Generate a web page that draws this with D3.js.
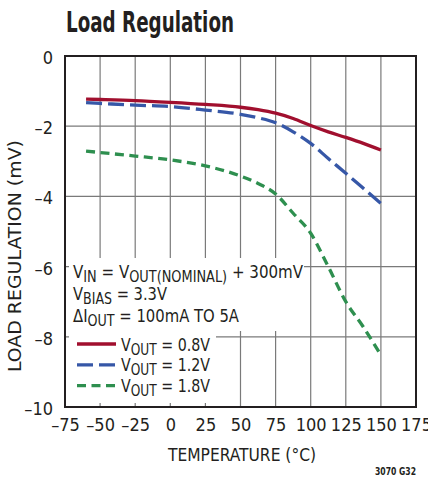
<!DOCTYPE html>
<html>
<head>
<meta charset="utf-8">
<script src="https://cdn.jsdelivr.net/npm/d3@7"></script>
<style>
  html, body { margin: 0; padding: 0; background: #fff; }
  svg text { font-family: "Liberation Sans Narrow", "DejaVu Sans Condensed", "Arial Narrow", sans-serif; fill: #231f20; }
</style>
</head>
<body>
<svg id="chart" width="428" height="477"></svg>
<script>
// ---- data ----
const temps = [-60, -50, -25, 0, 25, 50, 62.5, 75, 87.5, 100, 112.5, 125, 137.5, 150];
const vout08 = [-1.23, -1.24, -1.27, -1.32, -1.38, -1.46, -1.53, -1.63, -1.78, -1.98, -2.16, -2.32, -2.49, -2.68];
const vout12 = [-1.33, -1.35, -1.40, -1.44, -1.54, -1.66, -1.76, -1.90, -2.16, -2.49, -2.92, -3.34, -3.77, -4.20];
const vout18 = [-2.71, -2.75, -2.85, -2.96, -3.13, -3.42, -3.63, -3.93, -4.48, -5.05, -6.00, -7.00, -7.72, -8.52];
const seriesNames = ["0.8V", "1.2V", "1.8V"];
const xTicks = [-75, -50, -25, 0, 25, 50, 75, 100, 125, 150, 175];
const yTicks = [0, -2, -4, -6, -8, -10];
const titleText = "Load Regulation";
const xTitle = "TEMPERATURE (°C)";
const yTitle = "LOAD REGULATION (mV)";
const figId = "3070 G32";

// ---- layout ----
const svg = d3.select("#chart");
const L = 65, R = 416, T = 56, B = 407;
const x = d3.scaleLinear().domain([-75, 175]).range([L, R]);
const y = d3.scaleLinear().domain([-10, 0]).range([B, T]);
const fmt = v => (v < 0 ? "\u2013" + Math.abs(v) : String(v));
const FF = '"Liberation Sans Narrow", "DejaVu Sans Condensed", sans-serif';

// title
svg.append("text").attr("x", 66).attr("y", 32)
  .attr("font-size", 28).attr("font-weight", "bold")
  .attr("textLength", 168).attr("lengthAdjust", "spacingAndGlyphs")
  .text(titleText);

// grid
const grid = svg.append("g").attr("stroke", "#7a7a7a").attr("stroke-width", 1.2);
xTicks.slice(1, -1).forEach(t => {
  grid.append("line").attr("x1", x(t)).attr("x2", x(t)).attr("y1", T).attr("y2", B);
});
yTicks.slice(1, -1).forEach(t => {
  grid.append("line").attr("x1", L).attr("x2", R).attr("y1", y(t)).attr("y2", y(t));
});

// white boxes behind annotation & legend
svg.append("rect").attr("x", 69).attr("y", 258).attr("width", 235).attr("height", 73).attr("fill", "#fff");
svg.append("rect").attr("x", 69).attr("y", 331).attr("width", 147).attr("height", 72).attr("fill", "#fff");

// series
const colors = ["#a10f2e", "#3657a7", "#2e8f4f"];
const dashes = [null, "16,6", "9,5.5"];
const allSeries = [vout08, vout12, vout18];
const line = d3.line().x((d, i) => x(temps[i])).y(d => y(d)).curve(d3.curveMonotoneX);
allSeries.forEach((s, k) => {
  svg.append("path").datum(s).attr("d", line)
    .attr("fill", "none").attr("stroke", colors[k]).attr("stroke-width", 3.3)
    .attr("stroke-dasharray", dashes[k]);
});

// frame
svg.append("rect").attr("x", L).attr("y", T).attr("width", R - L).attr("height", B - T)
  .attr("fill", "none").attr("stroke", "#231f20").attr("stroke-width", 2);

// axes labels
const xAxis = d3.axisBottom(x).tickValues(xTicks).tickFormat(fmt).tickSize(0).tickPadding(11);
const gx = svg.append("g").attr("transform", `translate(0,${B})`).call(xAxis);
gx.select(".domain").remove();
gx.selectAll("text").attr("font-size", 18).attr("dy", "0.71em").attr("fill", "#231f20")
  .style("font-family", FF);

const yAxis = d3.axisLeft(y).tickValues(yTicks).tickFormat(fmt).tickSize(0).tickPadding(12);
const gy = svg.append("g").attr("transform", `translate(${L},0)`).call(yAxis);
gy.select(".domain").remove();
gy.selectAll("text").attr("font-size", 18).attr("dy", "0.42em").attr("fill", "#231f20")
  .style("font-family", FF);

// axis titles
svg.append("text").attr("x", 242).attr("y", 461).attr("text-anchor", "middle")
  .attr("font-size", 18).attr("textLength", 148).attr("lengthAdjust", "spacingAndGlyphs").text(xTitle);
svg.append("text").attr("transform", "translate(21,256) rotate(-90)").attr("text-anchor", "middle")
  .attr("font-size", 18).attr("textLength", 232).attr("lengthAdjust", "spacingAndGlyphs").text(yTitle);

// figure id
svg.append("text").attr("x", 375).attr("y", 475)
  .attr("font-size", 11).attr("font-weight", "bold")
  .attr("textLength", 41).attr("lengthAdjust", "spacingAndGlyphs").text(figId);

// annotation
function subText(sel, parts) {
  parts.forEach(p => {
    const t = sel.append("tspan").text(p.t);
    if (p.sub) t.attr("font-size", 15).attr("dy", 4);
    else if (p.after) t.attr("dy", -4);
  });
}
const ann = svg.append("g").attr("font-size", 17.5);
const a1 = ann.append("text").attr("x", 73).attr("y", 278)
  .attr("textLength", 230).attr("lengthAdjust", "spacingAndGlyphs");
subText(a1, [{t: "V"}, {t: "IN", sub: 1}, {t: " = V", after: 1}, {t: "OUT(NOMINAL)", sub: 1}, {t: " + 300mV", after: 1}]);
const a2 = ann.append("text").attr("x", 73).attr("y", 300)
  .attr("textLength", 94).attr("lengthAdjust", "spacingAndGlyphs");
subText(a2, [{t: "V"}, {t: "BIAS", sub: 1}, {t: " = 3.3V", after: 1}]);
const a3 = ann.append("text").attr("x", 73).attr("y", 322)
  .attr("textLength", 166).attr("lengthAdjust", "spacingAndGlyphs");
subText(a3, [{t: "\u0394I"}, {t: "OUT", sub: 1}, {t: " = 100mA TO 5A", after: 1}]);

// legend
seriesNames.forEach((n, k) => {
  const ly = 344 + k * 20.8;
  svg.append("line").attr("x1", 77).attr("x2", 116).attr("y1", ly).attr("y2", ly)
    .attr("stroke", colors[k]).attr("stroke-width", 3.3).attr("stroke-dasharray", dashes[k]);
  const t = ann.append("text").attr("x", 121).attr("y", ly + 6.5)
    .attr("textLength", 89).attr("lengthAdjust", "spacingAndGlyphs");
  subText(t, [{t: "V"}, {t: "OUT", sub: 1}, {t: " = " + n, after: 1}]);
});
</script>
</body>
</html>
